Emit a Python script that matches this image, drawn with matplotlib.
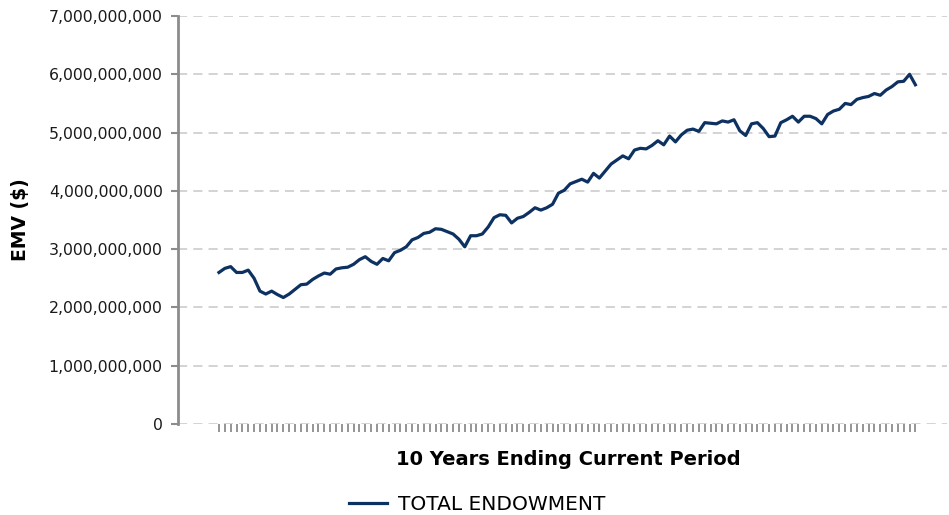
import matplotlib
matplotlib.use("Agg")
import matplotlib.pyplot as plt
from matplotlib.ticker import FuncFormatter

# monthly market value, billions of dollars, 10 years
emv_bn = [
    2.60, 2.67, 2.70, 2.60, 2.60, 2.64, 2.50, 2.28, 2.23, 2.28,
    2.22, 2.17, 2.23, 2.31, 2.39, 2.40, 2.48, 2.54, 2.59, 2.57,
    2.66, 2.68, 2.69, 2.74, 2.82, 2.87, 2.79, 2.74, 2.84, 2.80,
    2.94, 2.98, 3.04, 3.16, 3.20, 3.27, 3.29, 3.35, 3.34, 3.30,
    3.26, 3.17, 3.04, 3.23, 3.23, 3.26, 3.38, 3.54, 3.59, 3.58,
    3.45, 3.53, 3.56, 3.63, 3.71, 3.67, 3.71, 3.77, 3.96, 4.01,
    4.12, 4.16, 4.20, 4.15, 4.30, 4.22, 4.34, 4.46, 4.53, 4.60,
    4.55, 4.70, 4.73, 4.72, 4.78, 4.86, 4.79, 4.94, 4.84, 4.96,
    5.04, 5.06, 5.02, 5.17, 5.16, 5.15, 5.20, 5.18, 5.22, 5.03,
    4.95, 5.15, 5.17, 5.07, 4.93, 4.94, 5.17, 5.22, 5.28, 5.18,
    5.28, 5.28, 5.24, 5.15, 5.31, 5.37, 5.40, 5.50, 5.48, 5.57,
    5.60, 5.62, 5.67, 5.64, 5.73, 5.79, 5.87, 5.88, 6.00, 5.82,
]
months = list(range(len(emv_bn)))
emv = [v * 1e9 for v in emv_bn]
y_ticks = [0, 1e9, 2e9, 3e9, 4e9, 5e9, 6e9, 7e9]

W, H = 949, 515
fig = plt.figure(figsize=(W / 100, H / 100), dpi=100)
ax = fig.add_axes([178 / W, (H - 424) / H, (947 - 178) / W, (424 - 16) / H])

ax.plot(months, emv, color="#0d3161", lw=2.3, label="TOTAL ENDOWMENT", zorder=3)

ax.set_ylim(0, 7e9)
ax.set_xlim(-7.0, 124.4)
ax.set_yticks(y_ticks)
ax.yaxis.set_major_formatter(FuncFormatter(lambda v, p: f"{int(v):,}"))
ax.set_xticks(months)
ax.set_xticklabels([])

ax.grid(axis="y", color="#c8c8c8", ls=(0, (6, 4)), lw=1.1)
ax.set_axisbelow(True)
for s in ["top", "right", "bottom"]:
    ax.spines[s].set_visible(False)
ax.spines["left"].set_color("#8c8c8c")
ax.spines["left"].set_linewidth(2)
ax.tick_params(axis="y", colors="#8c8c8c", length=5, width=1.5, labelcolor="#1a1a1a",
               labelsize=11.3, pad=6)
ax.tick_params(axis="x", colors="#8c8c8c", length=6, width=1.3)

ax.set_ylabel("EMV ($)", fontsize=13.5, fontweight="bold")
ax.yaxis.set_label_coords(-0.193, 0.5)
ax.set_xlabel("10 Years Ending Current Period", fontsize=14, fontweight="bold")
ax.xaxis.set_label_coords(0.508, -0.064)

fig.legend(loc="center", bbox_to_anchor=(477 / W, 1 - 505 / H), frameon=False,
           fontsize=14.5, handlelength=1.9, handletextpad=0.55)

fig.savefig("out.png", dpi=100)
